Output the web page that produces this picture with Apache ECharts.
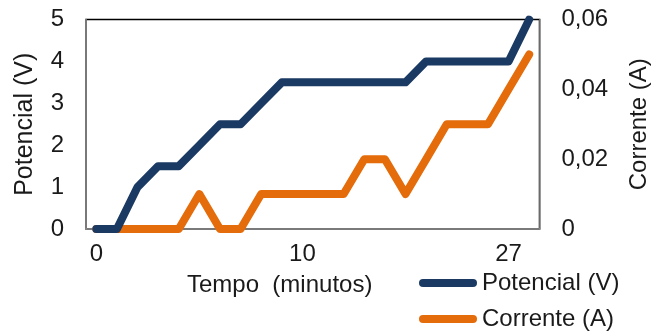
<!DOCTYPE html>
<html>
<head>
<meta charset="utf-8">
<script src="https://cdn.jsdelivr.net/npm/echarts@6/dist/echarts.min.js"></script>
<style>
  html, body { margin: 0; padding: 0; background: #ffffff; }
  #chart { width: 668px; height: 333px; }
</style>
</head>
<body>
<div id="chart"></div>
<script>
// Sample times (minutes) — only every tenth label is shown on the axis
const tempos = ['0', '1', '2', '3', '4', '5', '6', '7', '8', '9', '10',
  '12', '13', '15', '17', '19', '20', '22', '24', '25', '27', '29'];
// Voltage readings (V)
const potencial = [0, 0, 1, 1.5, 1.5, 2, 2.5, 2.5, 3, 3.5, 3.5,
  3.5, 3.5, 3.5, 3.5, 3.5, 4, 4, 4, 4, 4, 5];
// Current readings (A)
const corrente = [0, 0, 0, 0, 0, 0.01, 0, 0, 0.01, 0.01, 0.01,
  0.01, 0.01, 0.02, 0.02, 0.01, 0.02, 0.03, 0.03, 0.03, 0.04, 0.05];

const FONT = 'Liberation Sans, Arial, sans-serif';
const TXT = '#1a1a1a';
const AXIS_GRAY = '#8e8e8e';
const BLUE = '#1b3a63';
const ORANGE = '#e46c0a';
const FS = 24;
const pill = 'path://M4,0 L54,0 A4,4 0 0 1 54,8 L4,8 A4,4 0 0 1 4,0 Z';

const legendText = { fontFamily: FONT, fontSize: FS, color: TXT };

const chart = echarts.init(document.getElementById('chart'), null, { renderer: 'canvas' });

chart.setOption({
  animation: false,
  backgroundColor: '#ffffff',
  textStyle: { fontFamily: FONT },
  grid: {
    left: 86, right: 128.5, top: 19.5, bottom: 104, containLabel: false,
    show: true, borderColor: '#000000', borderWidth: 1.5, backgroundColor: 'transparent'
  },
  title: {
    text: 'Tempo  (minutos)',
    left: 182, top: 268,
    textStyle: { fontFamily: FONT, fontSize: FS, fontWeight: 'normal', color: TXT }
  },
  legend: [
    {
      left: 414, top: 266, itemWidth: 58, itemHeight: 8, itemGap: 4,
      textStyle: legendText,
      data: [{ name: 'Potencial (V)', icon: pill, itemStyle: { color: BLUE } }]
    },
    {
      left: 414, top: 302, itemWidth: 58, itemHeight: 8, itemGap: 4,
      textStyle: legendText,
      data: [{ name: 'Corrente (A)', icon: pill, itemStyle: { color: ORANGE } }]
    }
  ],
  xAxis: {
    type: 'category',
    data: tempos,
    boundaryGap: true,
    axisLine: { show: true, lineStyle: { color: AXIS_GRAY, width: 1.5 } },
    axisTick: { show: false },
    axisLabel: { interval: 9, margin: 13, fontFamily: FONT, fontSize: FS, color: TXT },
    splitLine: { show: false }
  },
  yAxis: [
    {
      type: 'value',
      min: 0, max: 5, interval: 1,
      name: 'Potencial (V)',
      nameLocation: 'middle',
      nameRotate: 90,
      nameGap: 48,
      nameTextStyle: { fontFamily: FONT, fontSize: 25, color: TXT },
      axisLine: { show: true, lineStyle: { color: AXIS_GRAY, width: 1.5 } },
      axisTick: { show: false },
      axisLabel: { margin: 22, fontFamily: FONT, fontSize: FS, color: TXT },
      splitLine: { show: false }
    },
    {
      type: 'value',
      min: 0, max: 0.06, interval: 0.02,
      name: 'Corrente (A)',
      nameLocation: 'middle',
      nameRotate: 90,
      nameGap: 88,
      nameTextStyle: { fontFamily: FONT, fontSize: FS, color: TXT },
      axisLine: { show: true, lineStyle: { color: AXIS_GRAY, width: 1.5 } },
      axisTick: { show: false },
      axisLabel: {
        margin: 22, fontFamily: FONT, fontSize: FS, color: TXT,
        formatter: v => (v === 0 ? '0' : v.toFixed(2).replace('.', ','))
      },
      splitLine: { show: false }
    }
  ],
  series: [
    {
      name: 'Potencial (V)',
      type: 'line',
      yAxisIndex: 0,
      data: potencial,
      symbol: 'none',
      color: BLUE,
      lineStyle: { color: BLUE, width: 8, cap: 'round', join: 'round' },
      z: 3
    },
    {
      name: 'Corrente (A)',
      type: 'line',
      yAxisIndex: 1,
      data: corrente,
      symbol: 'none',
      color: ORANGE,
      lineStyle: { color: ORANGE, width: 8, cap: 'round', join: 'round' },
      z: 2
    }
  ]
});
</script>
</body>
</html>
